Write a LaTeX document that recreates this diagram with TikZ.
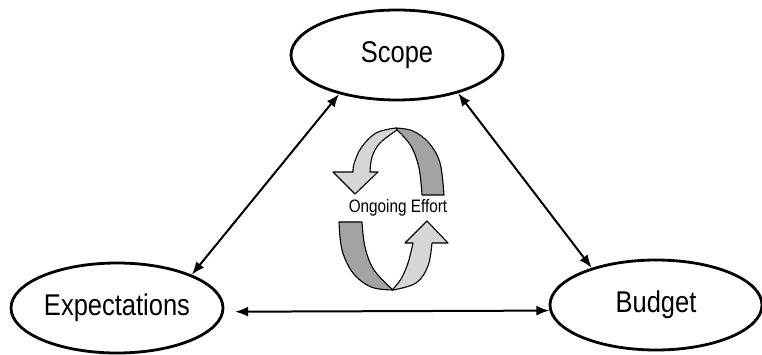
\documentclass[tikz,border=0pt]{standalone}
\usepackage{fontspec}
\setmainfont{Liberation Sans}[FakeStretch=0.85]
\usetikzlibrary{arrows.meta,shapes.geometric}
\begin{document}
\begin{tikzpicture}[x=1pt,y=-1pt,
 ell/.style={ellipse,draw,line width=2.8pt,minimum width=212pt,minimum height=90pt,inner sep=0pt,font=\fontsize{30}{34}\selectfont},
 conn/.style={line width=2pt,{Latex[length=13pt,width=10pt]}-{Latex[length=13pt,width=10pt]}},
 band/.style={draw,line width=1.1pt,line join=round},
 lightband/.style={band,fill=black!16},
 darkband/.style={band,fill=black!36},
 lbl/.style={font=\fontsize{18}{21}\selectfont,inner sep=0pt}]
\useasboundingbox (0,0) rectangle (762,355);
\node[ell] (scope) at (397,55) {Scope};
\node[ell] (exp) at (117,308) {Expectations};
\node[ell] (bud) at (656,305) {Budget};
\draw[conn] (scope.214) -- (exp.24);
\draw[conn] (scope.328) -- (bud.150);
\draw[conn,shorten <=11pt] (exp.-2) -- (bud.183);
% top cycle arrow
\path[darkband] plot[smooth,tension=0.6] coordinates {(396,128) (413,131) (429,143) (440,163) (444,195)}
  -- (422,195) -- plot[smooth,tension=0.6] coordinates {(422,195) (419,168) (411,146) (398,131)} -- cycle;
\path[lightband] plot[smooth,tension=0.6] coordinates {(396,128) (376,133) (361,148) (354,164) (353,172)}
  -- (333,172) -- (355,194) -- (378,172) -- (370,172)
  -- plot[smooth,tension=0.6] coordinates {(370,172) (372,157) (380,143) (397,130)} -- cycle;
% bottom cycle arrow
\path[darkband] (339,222) -- (362,222) -- plot[smooth,tension=0.6] coordinates {(362,222) (365,247) (374,270) (393,290)}
  -- plot[smooth,tension=0.6] coordinates {(393,290) (371,287) (353,273) (342,250) (339,222)} -- cycle;
\path[lightband] plot[smooth,tension=0.6] coordinates {(393,290) (416,283) (428,266) (432,243)}
  -- (448,243) -- (427,221) -- (405,243) -- (413,243)
  -- plot[smooth,tension=0.6] coordinates {(413,243) (408,263) (401,279) (393,289)} -- cycle;
\node[lbl] (effort) at (398,208) {Ongoing Effort};
\end{tikzpicture}
\end{document}
